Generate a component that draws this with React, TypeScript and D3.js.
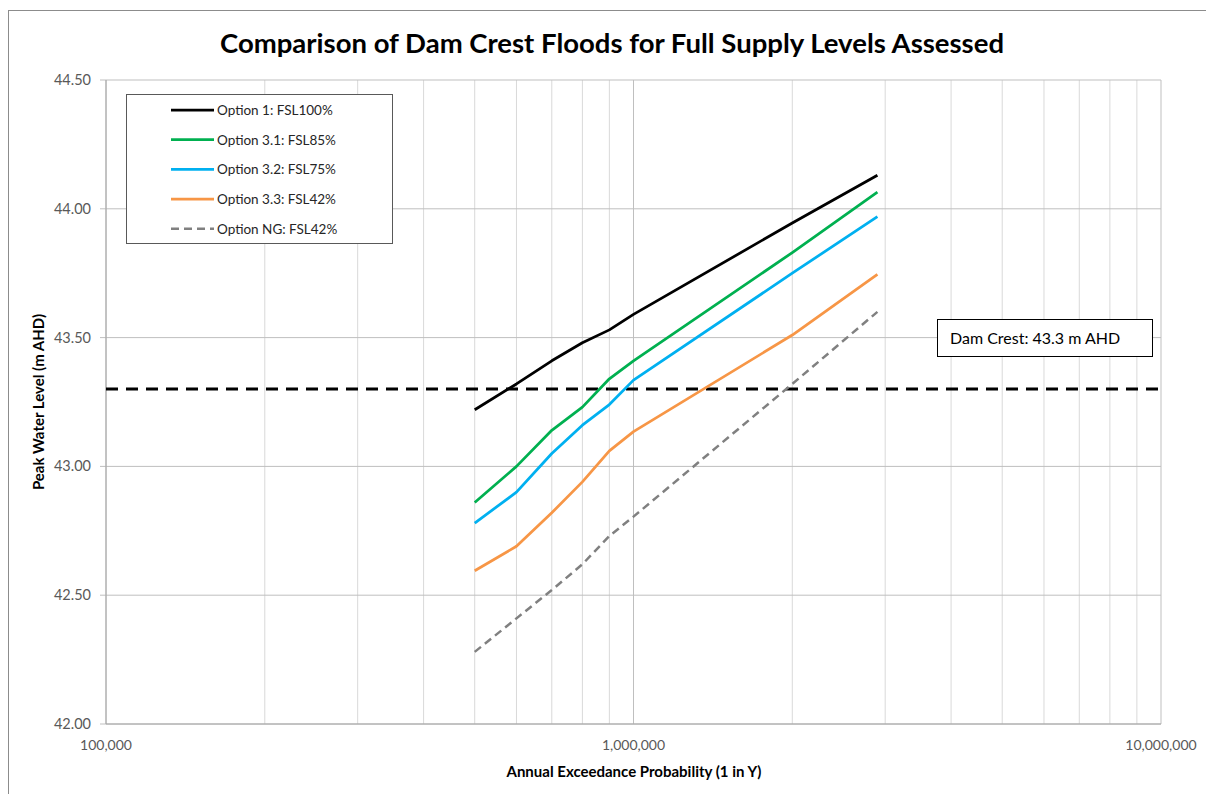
import React from 'react';
import * as d3 from 'd3';

// AEP (1 in Y) sample points shared by every option
const aep = [500000, 600000, 700000, 800000, 900000, 1000000, 2000000, 2900000];

const opt1 = [43.22, 43.32, 43.41, 43.48, 43.53, 43.59, 43.945, 44.13];
const opt31 = [42.86, 43.0, 43.14, 43.23, 43.34, 43.41, 43.83, 44.065];
const opt32 = [42.78, 42.9, 43.05, 43.16, 43.24, 43.335, 43.75, 43.97];
const opt33 = [42.595, 42.69, 42.82, 42.94, 43.06, 43.135, 43.51, 43.745];
const optNG = [42.28, 42.41, 42.52, 42.62, 42.73, 42.805, 43.32, 43.6];

const seriesNames = [
  'Option 1: FSL100%',
  'Option 3.1: FSL85%',
  'Option 3.2: FSL75%',
  'Option 3.3: FSL42%',
  'Option NG: FSL42%',
];
const seriesValues = [opt1, opt31, opt32, opt33, optNG];
const seriesColors = ['#000000', '#00b050', '#00b0f0', '#f79646', '#808080'];

const yTicks = [42.0, 42.5, 43.0, 43.5, 44.0, 44.5];
const xMajor = [100000, 1000000, 10000000];
const damCrest = 43.3;

const W = 1206;
const H = 794;
const left = 106;
const right = 1161;
const top = 80;
const bottom = 724;
const font = 'Lato, "Open Sans", sans-serif';

export default function App() {
  const x = d3.scaleLog().domain([100000, 10000000]).range([left, right]);
  const y = d3.scaleLinear().domain([42, 44.5]).range([bottom, top]);

  // minor log grid: 2..9 of each decade
  const minor: number[] = [];
  [100000, 1000000].forEach((d) => {
    for (let k = 2; k <= 9; k++) minor.push(d * k);
  });

  const line = d3
    .line<number>()
    .x((_, i) => x(aep[i]))
    .y((d) => y(d));

  const fmt = d3.format(',');

  return (
    <svg width={W} height={H} style={{ position: 'absolute', left: 0, top: 0 }}>
      <rect x={0} y={0} width={W} height={H} fill="#fff" />
      <rect x={8.5} y={10.5} width={W + 10} height={H + 10} fill="none" stroke="#8c8c8c" strokeWidth={1} />

      <text x={612} y={53} textAnchor="middle" fontFamily={font} fontWeight="bold" fontSize={27.5} fill="#000">
        Comparison of Dam Crest Floods for Full Supply Levels Assessed
      </text>

      {/* grid */}
      {minor.map((v) => (
        <line key={'m' + v} x1={x(v)} x2={x(v)} y1={top} y2={bottom} stroke="#d9d9d9" strokeWidth={1} />
      ))}
      {xMajor.map((v) => (
        <line key={'M' + v} x1={x(v)} x2={x(v)} y1={top} y2={bottom} stroke="#bfbfbf" strokeWidth={1} />
      ))}
      {yTicks.map((v) => (
        <g key={'y' + v}>
          <line x1={left - 6} x2={right} y1={y(v)} y2={y(v)} stroke="#bfbfbf" strokeWidth={1} />
          <text x={91} y={y(v) + 5} textAnchor="end" fontFamily={font} fontSize={14.5} fill="#595959">
            {v.toFixed(2)}
          </text>
        </g>
      ))}
      <line x1={left} x2={left} y1={top} y2={bottom} stroke="#a6a6a6" />
      <line x1={left} x2={right} y1={bottom} y2={bottom} stroke="#a6a6a6" />

      {xMajor.map((v) => (
        <text key={'xt' + v} x={x(v)} y={750} textAnchor="middle" fontFamily={font} fontSize={14} fill="#595959">
          {fmt(v)}
        </text>
      ))}

      <text x={634} y={777} textAnchor="middle" fontFamily={font} fontWeight="bold" fontSize={15} fill="#000">
        Annual Exceedance Probability  (1 in Y)
      </text>
      <text
        transform={`translate(44,${(top + bottom) / 2}) rotate(-90)`}
        textAnchor="middle"
        fontFamily={font}
        fontWeight="bold"
        fontSize={15}
        fill="#000"
      >
        Peak Water Level (m AHD)
      </text>

      {/* dam crest */}
      <line
        x1={left}
        x2={right}
        y1={y(damCrest)}
        y2={y(damCrest)}
        stroke="#000"
        strokeWidth={3}
        strokeDasharray="12 8"
      />

      {seriesValues.map((vals, i) => (
        <path
          key={seriesNames[i]}
          d={line(vals) || ''}
          fill="none"
          stroke={seriesColors[i]}
          strokeWidth={i === 4 ? 2.5 : 2.75}
          strokeLinejoin="round"
          strokeDasharray={i === 4 ? '8 5' : undefined}
        />
      ))}

      {/* legend */}
      <rect x={126.5} y={94.5} width={266} height={149} fill="#fff" stroke="#595959" strokeWidth={1} />
      {seriesNames.map((n, i) => (
        <g key={'lg' + n} transform={`translate(0,${110 + i * 29.7})`}>
          <line
            x1={171}
            x2={214}
            y1={0}
            y2={0}
            stroke={seriesColors[i]}
            strokeWidth={i === 4 ? 2.5 : 2.75}
            strokeDasharray={i === 4 ? '8 5' : undefined}
          />
          <text x={217} y={5} fontFamily={font} fontSize={13.5} fill="#262626">
            {n}
          </text>
        </g>
      ))}

      {/* dam crest label */}
      <rect x={937.5} y={319.5} width={215} height={37} fill="#fff" stroke="#000" strokeWidth={1} />
      <text x={950} y={343.5} fontFamily={font} fontSize={16} fill="#000">
        Dam Crest: 43.3 m AHD
      </text>
    </svg>
  );
}
